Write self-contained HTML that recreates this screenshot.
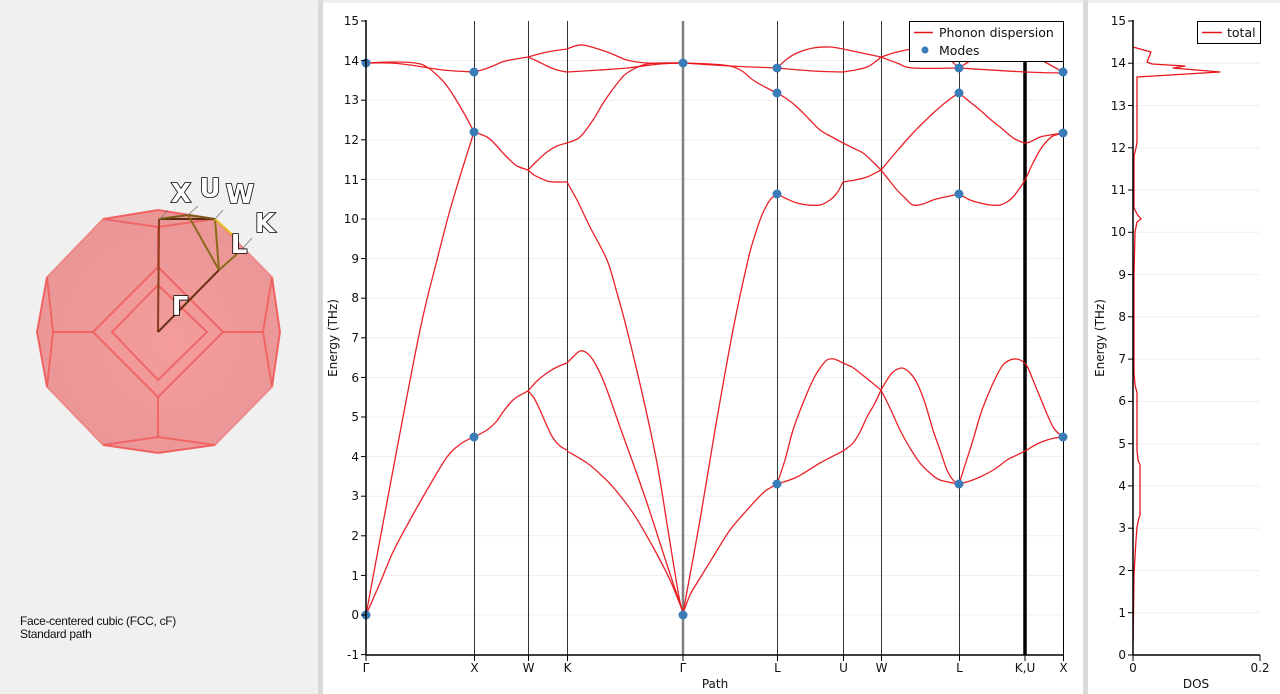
<!DOCTYPE html>
<html><head><meta charset="utf-8">
<style>
html,body{margin:0;padding:0;background:#efefef;}
svg{display:block;}
</style></head>
<body>
<svg id="root" width="1280" height="694" viewBox="0 0 1280 694" xmlns="http://www.w3.org/2000/svg" font-family="'DejaVu Sans', 'Liberation Sans', sans-serif">
<defs>
<clipPath id="mid"><rect x="323" y="0" width="745" height="694"/></clipPath>
<radialGradient id="bzg" cx="0.55" cy="0.55" r="0.6">
<stop offset="0" stop-color="#f49c9c"/><stop offset="1" stop-color="#e99696"/>
</radialGradient>
</defs>
<!-- backgrounds -->
<rect x="0" y="0" width="1280" height="694" fill="#efefef"/>
<rect x="0" y="3" width="318" height="691" fill="#f0f0f0"/>
<rect x="318" y="0" width="5" height="694" fill="#d9d9d9"/>
<rect x="323" y="3" width="760" height="691" fill="#ffffff"/>
<rect x="1083" y="0" width="5" height="694" fill="#d9d9d9"/>
<rect x="1088" y="3" width="192" height="691" fill="#ffffff"/>

<!-- ============ BZ panel ============ -->
<g>
<polygon points="103,219 158,210 215,219 272,277 280,332 272,387 215,445 158,453 103,445 47,387 37,332 47,277" fill="url(#bzg)" stroke="#f06a6a" stroke-width="1.5" stroke-opacity="0.7"/>
<g fill="none" stroke="#f25454" stroke-opacity="0.75" stroke-width="2">
<polygon points="103,219 158,210 215,219 158,227"/>
<line x1="158" y1="227" x2="158" y2="267"/>
<polygon points="158,267 223,332 158,397 93,332"/>
<polygon points="158,285 207,332 158,380 112,332"/>
<line x1="53" y1="332" x2="93" y2="332"/>
<line x1="223" y1="332" x2="263" y2="332"/>
<polygon points="47,277 37,332 47,387 53,332"/>
<polygon points="272,277 280,332 272,387 263,332"/>
<polygon points="103,445 158,453 215,445 158,437"/>
<line x1="158" y1="397" x2="158" y2="437"/>
</g>
<g fill="none" stroke-width="2">
<line x1="158" y1="332" x2="159" y2="219" stroke="#8a3c1c"/>
<line x1="159" y1="219" x2="215" y2="219" stroke="#5a2e10"/>
<polyline points="159,219 188,215 215,219" stroke="#7a5a18"/>
<line x1="188" y1="215" x2="219" y2="270" stroke="#8a6a1c"/>
<line x1="215" y1="219" x2="219" y2="270" stroke="#8a6a1c"/>
<line x1="158" y1="332" x2="219" y2="270" stroke="#6a3414"/>
<line x1="219" y1="270" x2="237" y2="254" stroke="#8a6a1c"/>
<line x1="215" y1="219" x2="236" y2="238" stroke="#e8c020"/>
</g>
<g stroke="#777" stroke-width="0.8">
<line x1="168" y1="210" x2="160" y2="219"/>
<line x1="198" y1="206" x2="188" y2="215"/>
<line x1="223" y1="210" x2="215" y2="219"/>
<line x1="252" y1="238" x2="243" y2="248"/>
</g>
<g font-size="26" font-weight="bold" fill="#ffffff" stroke="#000" stroke-width="1.6" paint-order="stroke" text-anchor="middle">
<text x="181" y="202">X</text>
<text x="210" y="197">U</text>
<text x="240" y="203">W</text>
<text x="265" y="232">K</text>
<text x="239" y="253">L</text>
<text x="180" y="315">Γ</text>
</g>
<text x="20" y="625" font-family="'Liberation Sans', sans-serif" font-size="12" fill="#111" letter-spacing="-0.3">Face-centered cubic (FCC, cF)</text>
<text x="20" y="638" font-family="'Liberation Sans', sans-serif" font-size="12" fill="#111" letter-spacing="-0.3">Standard path</text>
</g>

<!-- ============ Middle chart ============ -->
<g clip-path="url(#mid)">
<!-- grid -->
<g stroke="#efefef" stroke-width="1">
<line x1="366" x2="1064" y1="615" y2="615"/><line x1="366" x2="1064" y1="575.4" y2="575.4"/>
<line x1="366" x2="1064" y1="535.8" y2="535.8"/><line x1="366" x2="1064" y1="496.2" y2="496.2"/>
<line x1="366" x2="1064" y1="456.6" y2="456.6"/><line x1="366" x2="1064" y1="417" y2="417"/>
<line x1="366" x2="1064" y1="377.4" y2="377.4"/><line x1="366" x2="1064" y1="337.8" y2="337.8"/>
<line x1="366" x2="1064" y1="298.2" y2="298.2"/><line x1="366" x2="1064" y1="258.6" y2="258.6"/>
<line x1="366" x2="1064" y1="219" y2="219"/><line x1="366" x2="1064" y1="179.4" y2="179.4"/>
<line x1="366" x2="1064" y1="139.8" y2="139.8"/><line x1="366" x2="1064" y1="100.2" y2="100.2"/>
<line x1="366" x2="1064" y1="60.6" y2="60.6"/>
</g>
<!-- vertical path lines -->
<g stroke="#333" stroke-width="1">
<line x1="474.5" y1="21" x2="474.5" y2="655"/>
<line x1="528.5" y1="21" x2="528.5" y2="655"/>
<line x1="567.5" y1="21" x2="567.5" y2="655"/>
<line x1="777.5" y1="21" x2="777.5" y2="655"/>
<line x1="843.5" y1="21" x2="843.5" y2="655"/>
<line x1="881.5" y1="21" x2="881.5" y2="655"/>
<line x1="959.5" y1="21" x2="959.5" y2="655"/>
</g>
<line x1="1063.5" y1="21" x2="1063.5" y2="655" stroke="#000" stroke-width="1"/>
<line x1="683" y1="21" x2="683" y2="655" stroke="#808080" stroke-width="2.5"/>
<line x1="1025" y1="21" x2="1025" y2="655" stroke="#000" stroke-width="3.5"/>

<!-- dispersion curves -->
<g id="curves" fill="none" stroke="#e8141b" stroke-width="1.3" stroke-linejoin="round" stroke-opacity="0.95">
<polyline points="366,615 380,583 393,552 410,520 427,490 447,457 462,443 474,437"/>
<polyline points="366,615 393,470 420,330 437,260 450,210 462,170 474,132"/>
<polyline points="366,63 393,62 415,63 427,67 440,78 447,86 455,98 465,115 474,132"/>
<polyline points="366,63 390,63 410,65 443,70 474,72"/>

<polyline points="474,437 487,430 496,422 503,412 511,402 517,397 528,391"/>
<polyline points="474,132 487,137 495,144 503,153 510,160 517,166 528,170"/>
<polyline points="474,72 485,69 493,66 502,62 510,60 528,57"/>

<polyline points="528,391 537,381 547,373 557,367 567,363"/>
<polyline points="528,391 534,398 540,410 547,426 553,438 560,446 567,450"/>
<polyline points="528,170 537,161 547,152 557,146 567,143"/>
<polyline points="528,170 534,175 540,178 547,181 553,182 567,182"/>
<polyline points="528,57 547,52 567,49"/>
<polyline points="528,57 537,61 547,66 557,70 567,72"/>

<polyline points="567,451 587,463 600,474 613,487 633,513 653,547 670,580 683,612"/>
<polyline points="567,363 573,357 580,351 587,353 593,360 600,373 607,390 620,427 633,463 647,503 660,543 673,583 683,612"/>
<polyline points="567,182 577,200 590,227 607,260 617,293 627,330 643,397 657,463 668,530 679,597 683,612"/>
<polyline points="567,143 580,137 593,120 602,105 610,93 620,80 627,73 643,65 660,63 683,63"/>
<polyline points="567,49 575,46 583,45 595,48 610,53 627,60 647,63 683,63"/>
<polyline points="567,72 600,70 627,68 660,64 683,63"/>

<polyline points="683,613 690,595 697,583 713,557 730,530 747,510 763,493 770,488 777,484"/>
<polyline points="683,613 700,520 715,430 733,330 748,260 755,235 762,215 770,200 777,194"/>
<polyline points="683,63 710,64 730,66 742,71 753,80 765,87 777,93"/>
<polyline points="683,63 730,66 777,68"/>

<polyline points="777,484 785,460 793,430 803,403 813,380 820,368 827,360 834,359 843,363"/>
<polyline points="777,484 797,477 820,463 843,451"/>
<polyline points="777,194 787,199 797,203 808,205 820,205 830,200 837,193 843,182"/>
<polyline points="777,93 787,99 797,107 808,118 820,130 832,137 843,143"/>
<polyline points="777,68 787,59 797,53 813,48 830,47 843,49"/>
<polyline points="777,68 813,71 843,72"/>

<polyline points="843,451 853,443 860,432 867,417 875,403 881,390"/>
<polyline points="843,363 852,367 860,373 870,381 881,390"/>
<polyline points="843,182 855,180 867,177 881,170"/>
<polyline points="843,143 853,148 863,153 872,161 881,170"/>
<polyline points="843,49 862,53 881,57"/>
<polyline points="843,72 855,70 867,67 875,62 881,57"/>

<polyline points="881,390 887,380 893,372 902,368 910,373 917,383 925,403 933,430 940,450 947,470 953,480 959,484"/>
<polyline points="881,390 890,408 900,430 910,448 920,463 930,473 940,480 959,484"/>
<polyline points="881,170 889,180 897,190 905,198 913,205 923,204 933,200 945,197 959,194"/>
<polyline points="881,170 897,151 913,133 927,119 940,107 950,99 959,93"/>
<polyline points="881,57 897,63 913,68 959,68"/>
<polyline points="881,57 897,52 913,49 930,50 945,56 959,68"/>

<polyline points="959,484 966,462 973,440 981,413 990,390 997,375 1003,365 1010,360 1017,359 1022,361 1027,366 1033,380 1040,397 1047,414 1053,427 1058,433 1063,437"/>
<polyline points="959,484 970,481 980,477 995,469 1007,460 1017,455 1025,451 1037,444 1047,440 1055,438 1063,437"/>
<polyline points="959,194 970,200 980,203 990,205 1000,205 1007,202 1013,197 1019,189 1025,180 1032,165 1040,150 1047,141 1053,136 1063,133"/>
<polyline points="959,93 970,102 980,110 990,119 1000,127 1007,133 1015,139 1025,143 1032,141 1040,137 1050,135 1063,133"/>
<polyline points="959,68 1025,72 1063,73"/>
<polyline points="959,68 975,58 990,52 1010,50 1030,53 1045,62 1063,72"/>
</g>

<!-- modes -->
<g fill="#3a7cb8">
<circle cx="366" cy="615" r="4.5"/><circle cx="366" cy="63" r="4.5"/>
<circle cx="474" cy="437" r="4.5"/><circle cx="474" cy="132" r="4.5"/><circle cx="474" cy="72" r="4.5"/>
<circle cx="683" cy="615" r="4.5"/><circle cx="683" cy="63" r="4.5"/>
<circle cx="777" cy="484" r="4.5"/><circle cx="777" cy="194" r="4.5"/><circle cx="777" cy="93" r="4.5"/><circle cx="777" cy="68" r="4.5"/>
<circle cx="959" cy="484" r="4.5"/><circle cx="959" cy="194" r="4.5"/><circle cx="959" cy="93" r="4.5"/><circle cx="959" cy="68" r="4.5"/>
<circle cx="1063" cy="437" r="4.5"/><circle cx="1063" cy="133" r="4.5"/><circle cx="1063" cy="72" r="4.5"/>
</g>

<!-- legend -->
<rect x="909.5" y="21.5" width="154" height="40" fill="#fff" stroke="#000" stroke-width="1"/>
<line x1="914" y1="32.5" x2="933" y2="32.5" stroke="#e8141b" stroke-width="1.5"/>
<text x="939" y="37" font-size="12.5" fill="#111">Phonon dispersion</text>
<circle cx="925" cy="50" r="3.5" fill="#3a7cb8"/>
<text x="939" y="55" font-size="12.5" fill="#111">Modes</text>

<!-- axes -->
<line x1="366" y1="20" x2="366" y2="655.5" stroke="#000" stroke-width="1.5"/>
<line x1="366" y1="655" x2="1064" y2="655" stroke="#000" stroke-width="1.5"/>
<g stroke="#000" stroke-width="1">
<line x1="361" x2="366" y1="654.6" y2="654.6"/><line x1="361" x2="366" y1="615" y2="615"/>
<line x1="361" x2="366" y1="575.4" y2="575.4"/><line x1="361" x2="366" y1="535.8" y2="535.8"/>
<line x1="361" x2="366" y1="496.2" y2="496.2"/><line x1="361" x2="366" y1="456.6" y2="456.6"/>
<line x1="361" x2="366" y1="417" y2="417"/><line x1="361" x2="366" y1="377.4" y2="377.4"/>
<line x1="361" x2="366" y1="337.8" y2="337.8"/><line x1="361" x2="366" y1="298.2" y2="298.2"/>
<line x1="361" x2="366" y1="258.6" y2="258.6"/><line x1="361" x2="366" y1="219" y2="219"/>
<line x1="361" x2="366" y1="179.4" y2="179.4"/><line x1="361" x2="366" y1="139.8" y2="139.8"/>
<line x1="361" x2="366" y1="100.2" y2="100.2"/><line x1="361" x2="366" y1="60.6" y2="60.6"/>
<line x1="361" x2="366" y1="21" y2="21"/>
<line x1="366" x2="366" y1="655" y2="661"/><line x1="474.5" x2="474.5" y1="655" y2="661"/>
<line x1="528.5" x2="528.5" y1="655" y2="661"/><line x1="567.5" x2="567.5" y1="655" y2="661"/>
<line x1="683" x2="683" y1="655" y2="661"/><line x1="777.5" x2="777.5" y1="655" y2="661"/>
<line x1="843.5" x2="843.5" y1="655" y2="661"/><line x1="881.5" x2="881.5" y1="655" y2="661"/>
<line x1="959.5" x2="959.5" y1="655" y2="661"/><line x1="1025" x2="1025" y1="655" y2="661"/>
<line x1="1063.5" x2="1063.5" y1="655" y2="661"/>
</g>
<g font-size="12" fill="#111" text-anchor="end">
<text x="359" y="659">-1</text><text x="359" y="619">0</text><text x="359" y="580">1</text>
<text x="359" y="540">2</text><text x="359" y="500">3</text><text x="359" y="461">4</text>
<text x="359" y="421">5</text><text x="359" y="382">6</text><text x="359" y="342">7</text>
<text x="359" y="302">8</text><text x="359" y="263">9</text><text x="359" y="223">10</text>
<text x="359" y="184">11</text><text x="359" y="144">12</text><text x="359" y="104">13</text>
<text x="359" y="65">14</text><text x="359" y="25">15</text>
</g>
<g font-size="12" fill="#111" text-anchor="middle">
<text x="366" y="672">Γ</text><text x="474.5" y="672">X</text><text x="528.5" y="672">W</text>
<text x="567.5" y="672">K</text><text x="683" y="672">Γ</text><text x="777.5" y="672">L</text>
<text x="843.5" y="672">U</text><text x="881.5" y="672">W</text><text x="959.5" y="672">L</text>
<text x="1025" y="672">K,U</text><text x="1063.5" y="672">X</text>
</g>
<text x="715" y="688" font-size="12" fill="#111" text-anchor="middle">Path</text>
<text transform="translate(337,338) rotate(-90)" font-size="12" fill="#111" text-anchor="middle">Energy (THz)</text>
</g>

<!-- ============ DOS panel ============ -->
<g>
<g stroke="#efefef" stroke-width="1">
<line x1="1133" x2="1260" y1="612.7" y2="612.7"/><line x1="1133" x2="1260" y1="570.5" y2="570.5"/>
<line x1="1133" x2="1260" y1="528.2" y2="528.2"/><line x1="1133" x2="1260" y1="485.9" y2="485.9"/>
<line x1="1133" x2="1260" y1="443.7" y2="443.7"/><line x1="1133" x2="1260" y1="401.4" y2="401.4"/>
<line x1="1133" x2="1260" y1="359.1" y2="359.1"/><line x1="1133" x2="1260" y1="316.8" y2="316.8"/>
<line x1="1133" x2="1260" y1="274.6" y2="274.6"/><line x1="1133" x2="1260" y1="232.3" y2="232.3"/>
<line x1="1133" x2="1260" y1="190" y2="190"/><line x1="1133" x2="1260" y1="147.8" y2="147.8"/>
<line x1="1133" x2="1260" y1="105.5" y2="105.5"/><line x1="1133" x2="1260" y1="63.2" y2="63.2"/>
</g>
<polyline fill="none" stroke="#e8141b" stroke-width="1.3" stroke-linejoin="round" points="1133,642 1133.5,613 1134,575 1135,557 1136,540 1137,527 1139,518 1140,515 1140,465 1138,460 1137,450 1137,393 1135,385 1134,372 1134,275 1135,232 1137,222 1141,219 1137,214 1134,208 1134,156 1136,148 1137,142 1137,100 1137,77 1220,72 1173,68 1185,66 1152,64 1147,62 1151,52 1133,47"/>
<line x1="1133" y1="20" x2="1133" y2="655.5" stroke="#000" stroke-width="1.5"/>
<line x1="1133" y1="655" x2="1260" y2="655" stroke="#000" stroke-width="1.5"/>
<g stroke="#000" stroke-width="1">
<line x1="1128" x2="1133" y1="655" y2="655"/><line x1="1128" x2="1133" y1="612.7" y2="612.7"/>
<line x1="1128" x2="1133" y1="570.5" y2="570.5"/><line x1="1128" x2="1133" y1="528.2" y2="528.2"/>
<line x1="1128" x2="1133" y1="485.9" y2="485.9"/><line x1="1128" x2="1133" y1="443.7" y2="443.7"/>
<line x1="1128" x2="1133" y1="401.4" y2="401.4"/><line x1="1128" x2="1133" y1="359.1" y2="359.1"/>
<line x1="1128" x2="1133" y1="316.8" y2="316.8"/><line x1="1128" x2="1133" y1="274.6" y2="274.6"/>
<line x1="1128" x2="1133" y1="232.3" y2="232.3"/><line x1="1128" x2="1133" y1="190" y2="190"/>
<line x1="1128" x2="1133" y1="147.8" y2="147.8"/><line x1="1128" x2="1133" y1="105.5" y2="105.5"/>
<line x1="1128" x2="1133" y1="63.2" y2="63.2"/><line x1="1128" x2="1133" y1="21" y2="21"/>
<line x1="1133" x2="1133" y1="655" y2="661"/><line x1="1260" x2="1260" y1="655" y2="661"/>
</g>
<g font-size="12" fill="#111" text-anchor="end">
<text x="1126" y="659">0</text><text x="1126" y="617">1</text><text x="1126" y="575">2</text>
<text x="1126" y="532">3</text><text x="1126" y="490">4</text><text x="1126" y="448">5</text>
<text x="1126" y="405">6</text><text x="1126" y="363">7</text><text x="1126" y="321">8</text>
<text x="1126" y="279">9</text><text x="1126" y="236">10</text><text x="1126" y="194">11</text>
<text x="1126" y="152">12</text><text x="1126" y="110">13</text><text x="1126" y="67">14</text>
<text x="1126" y="25">15</text>
</g>
<g font-size="12" fill="#111" text-anchor="middle">
<text x="1133" y="672">0</text><text x="1260" y="672">0.2</text>
<text x="1196" y="688">DOS</text>
</g>
<text transform="translate(1104,338) rotate(-90)" font-size="12" fill="#111" text-anchor="middle">Energy (THz)</text>
<rect x="1197.5" y="21.5" width="63" height="22" fill="#fff" stroke="#000" stroke-width="1"/>
<line x1="1202" y1="32.5" x2="1222" y2="32.5" stroke="#e8141b" stroke-width="1.5"/>
<text x="1227" y="37" font-size="12.5" fill="#111">total</text>
</g>
</svg>
<script>
(function(){
  try{
    var ns="http://www.w3.org/2000/svg";
    var g=document.getElementById("curves");
    var pls=Array.prototype.slice.call(g.getElementsByTagName("polyline"));
    pls.forEach(function(pl){
      var nums=pl.getAttribute("points").trim().split(/[\s,]+/).map(Number);
      var p=[];
      for(var i=0;i<nums.length;i+=2)p.push([nums[i],nums[i+1]]);
      if(p.length<3)return;
      var d="M"+p[0][0]+","+p[0][1];
      for(var i=0;i<p.length-1;i++){
        var p0=p[i>0?i-1:0],p1=p[i],p2=p[i+1],p3=p[i+2<p.length?i+2:p.length-1];
        var t=1/6;
        var c1x=p1[0]+(p2[0]-p0[0])*t,c1y=p1[1]+(p2[1]-p0[1])*t;
        var c2x=p2[0]-(p3[0]-p1[0])*t,c2y=p2[1]-(p3[1]-p1[1])*t;
        d+=" C"+c1x.toFixed(2)+","+c1y.toFixed(2)+" "+c2x.toFixed(2)+","+c2y.toFixed(2)+" "+p2[0]+","+p2[1];
      }
      var path=document.createElementNS(ns,"path");
      path.setAttribute("d",d);
      g.insertBefore(path,pl);
      g.removeChild(pl);
    });
  }catch(e){}
})();
</script>
</body></html>
